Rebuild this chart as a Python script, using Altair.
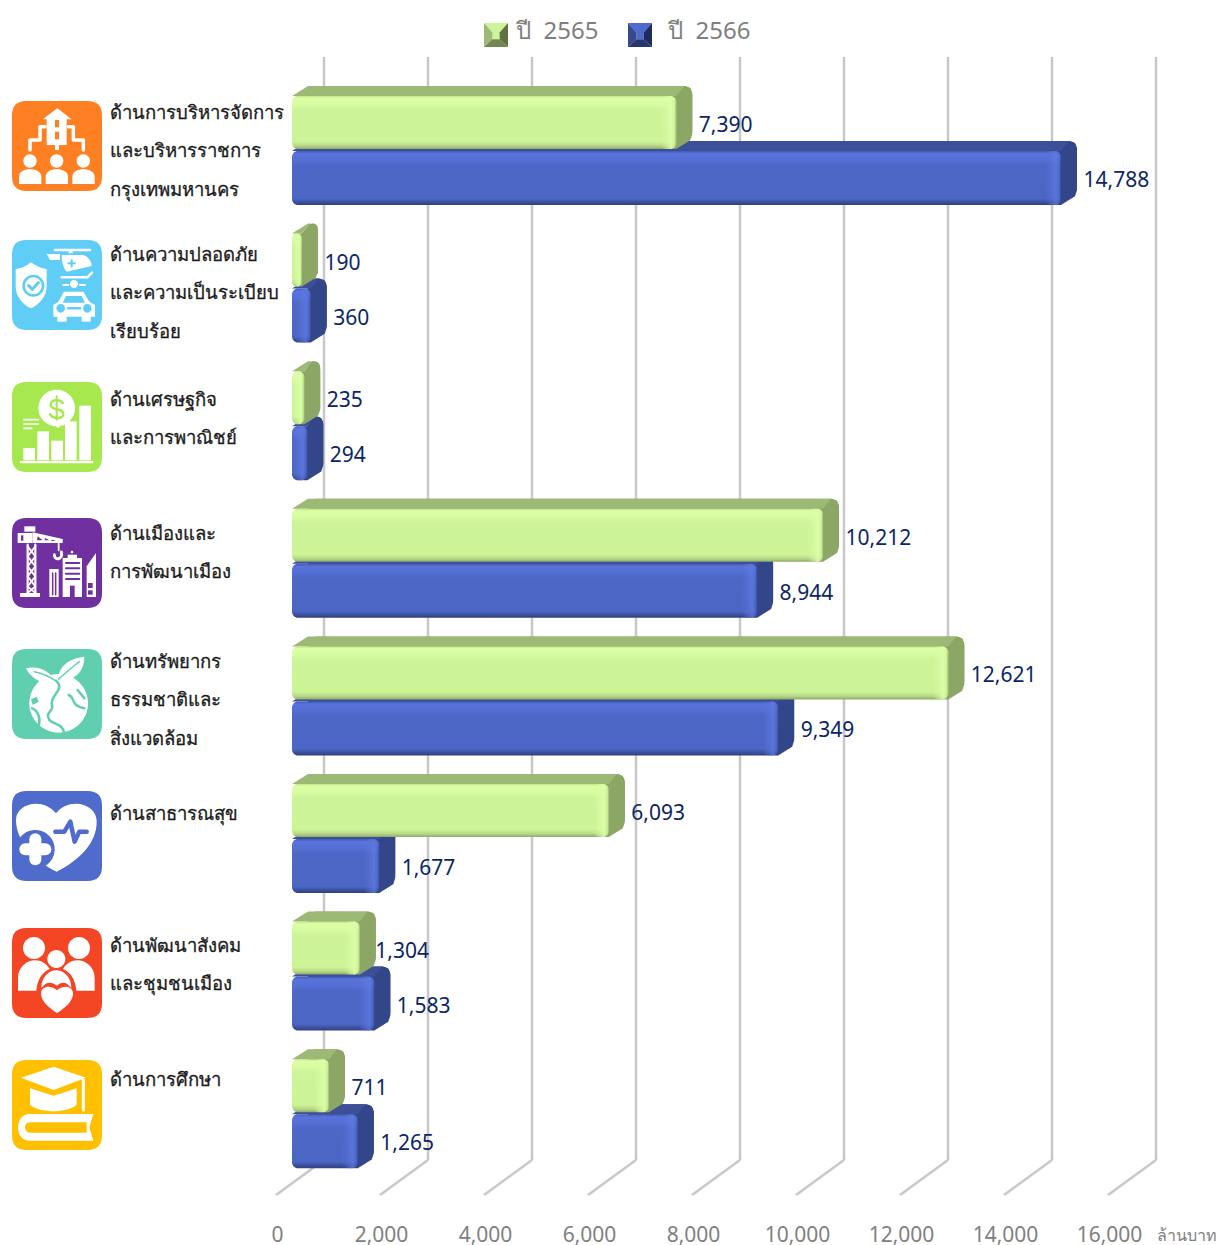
import re
import altair as alt
import pandas as pd

categories = [
    ["ด้านการบริหารจัดการ", "และบริหารราชการ", "กรุงเทพมหานคร"],
    ["ด้านความปลอดภัย", "และความเป็นระเบียบ", "เรียบร้อย"],
    ["ด้านเศรษฐกิจ", "และการพาณิชย์"],
    ["ด้านเมืองและ", "การพัฒนาเมือง"],
    ["ด้านทรัพยากร", "ธรรมชาติและ", "สิ่งแวดล้อม"],
    ["ด้านสาธารณสุข"],
    ["ด้านพัฒนาสังคม", "และชุมชนเมือง"],
    ["ด้านการศึกษา"],
]
y2565 = [7390, 190, 235, 10212, 12621, 6093, 1304, 711]
y2566 = [14788, 360, 294, 8944, 9349, 1677, 1583, 1265]
tick_values = [0, 2000, 4000, 6000, 8000, 10000, 12000, 14000, 16000]
text_first_line = [113, 255, 400, 534, 662, 814, 946, 1080]
icon_centres = [146, 285, 427, 563, 694, 836, 973, 1105]

W, H = 1211, 1237
PX = 0.052
X0 = 292
ROW0, ROWSTEP = 150, 137.6
FONT = "Noto Sans"


def fx(px):
    return (px - X0) / PX


def fy(py):
    return (py - ROW0) / ROWSTEP


def dv(px):
    return px / PX


def dr(py):
    return py / ROWSTEP


XS = alt.Scale(domain=[fx(8), fx(8 + W)], nice=False, zero=False)
YS = alt.Scale(domain=[fy(8 + H), fy(8)], nice=False, zero=False)
X_AXIS = alt.Axis(
    values=tick_values, labelExpr="format(datum.value, ',')", labelOffset=-15, domain=False,
    ticks=False, grid=False, labelFontSize=21, labelColor="#808080", labelFont=FONT,
    labelOverlap=False, labelFlush=False, labelPadding=0, offset=-21, title=None)


def X(f="x"):
    return alt.X(f + ":Q", scale=XS, title=None, axis=X_AXIS)


def Y(f="y"):
    return alt.Y(f + ":Q", scale=YS, axis=None, title=None)


# ------------------------------------------------------------------ grid
gx = pd.DataFrame({"x": [v + dv(32) for v in tick_values], "y": fy(57), "y2": fy(1160)})
fl = pd.DataFrame({
    "x": [v + dv(32) for v in tick_values],
    "x2": [v - dv(16) for v in tick_values],
    "y": fy(1160),
    "y2": fy(1195),
})
GRID = "#c8c8c8"
grid = alt.Chart(gx).mark_rule(color=GRID, strokeWidth=2.5).encode(
    x=X(), y=Y(), y2="y2:Q")
floor = alt.Chart(fl).mark_rule(color=GRID, strokeWidth=2.5).encode(
    x=X(), x2="x2:Q", y=Y(), y2="y2:Q")

# ------------------------------------------------------------------ bars
DX, DY = 16, 10
RB = 8


def stops(pairs):
    return alt.Gradient(gradient="linear", x1=0, x2=0, y1=0, y2=1,
                        stops=[alt.GradientStop(color=c, offset=o) for o, c in pairs])


def hstops(pairs):
    return alt.Gradient(gradient="linear", x1=0, x2=1, y1=0, y2=0,
                        stops=[alt.GradientStop(color=c, offset=o) for o, c in pairs])


def series(values, top, bot, top_col, side_col, front, edge):
    rows = list(range(len(values)))
    t = [r + dr(top) for r in rows]
    b = [r + dr(bot) for r in rows]
    df = pd.DataFrame({"x0": 0.0, "v": values, "t": t, "b": b})
    back = df.assign(x=dv(DX), x2=df.v + dv(DX), y=df.t - dr(DY), y2=df.b - dr(DY))
    back_l = alt.Chart(back).mark_rect(color=side_col, cornerRadius=RB).encode(
        x=X(), x2="x2:Q", y=Y(), y2="y2:Q")
    tops, sides = [], []
    for i, v in enumerate(values):
        tops += [dict(id=i, x=0, x2=v, y=t[i]),
                 dict(id=i, x=dv(DX), x2=max(v + dv(DX - RB), dv(DX)), y=t[i] - dr(DY))]
        sides += [
            dict(id=i, x=max(v - dv(4), 0), y=t[i], y2=b[i]),
            dict(id=i, x=v, y=t[i], y2=b[i]),
            dict(id=i, x=v + dv(DX - RB), y=t[i] - dr(DY), y2=b[i] - dr(DY / 2)),
            dict(id=i, x=v + dv(DX - 2), y=t[i] - dr(DY - 2), y2=b[i] - dr(DY - 1.25)),
            dict(id=i, x=v + dv(DX), y=t[i] - dr(DY - RB), y2=b[i] - dr(DY + 5)),
        ]
    side_l = alt.Chart(pd.DataFrame(sides)).mark_area(orient="vertical", color=side_col).encode(
        x=X(), y=Y(), y2="y2:Q", detail="id:N")
    top_l = alt.Chart(pd.DataFrame(tops)).mark_area(orient="horizontal", color=top_col).encode(
        x=X(), x2="x2:Q", y=Y(), detail="id:N")
    fr = df.assign(x=0.0, x2=df.v, y=df.t, y2=df.b)
    front_l = alt.Chart(fr).mark_rect(fill=stops(front), cornerRadius=6).encode(
        x=X(), x2="x2:Q", y=Y(), y2="y2:Q")
    strip = fr.assign(x=(df.v - dv(16)).clip(lower=0))
    strip_l = alt.Chart(strip).mark_rect(fill=hstops(edge), cornerRadius=6).encode(
        x=X(), x2="x2:Q", y=Y(), y2="y2:Q")
    return [back_l, side_l, top_l, front_l, strip_l]


blue = series(
    y2566, 1, 55, "#3c4f98", "#34468a",
    [(0, "#4059b0"), (0.05, "#5874da"), (0.16, "#5470d6"), (0.26, "#4c67c6"), (0.88, "#4b66c4"),
     (0.95, "#3a4f9c"), (1, "#323f7c")],
    [(0, "rgba(90,116,220,0)"), (0.7, "rgba(96,122,226,0.75)"), (0.9, "rgba(80,104,204,0.5)"), (1, "rgba(44,60,130,0.75)")],
)
green = series(
    y2565, -54, -1, "#9db976", "#8ca666",
    [(0, "#c0e088"), (0.04, "#dcffa6"), (0.15, "#d8fca2"), (0.26, "#cdf498"), (0.86, "#ccf396"),
     (0.94, "#b6d886"), (1, "#8fa96a")],
    [(0, "rgba(214,250,160,0)"), (0.7, "rgba(220,255,170,0.9)"), (0.9, "rgba(204,240,150,0.7)"), (1, "rgba(140,170,100,0.85)")],
)

# ------------------------------------------------------------------ value labels
LAB = []
for r, (a, b) in enumerate(zip(y2565, y2566)):
    extra = -7 if a == 1304 else 0
    LAB.append(dict(x=a + dv(DX + 6.5 + extra), y=fy(126 + r * ROWSTEP), t=f"{a:,}"))
    LAB.append(dict(x=b + dv(DX + 6.5), y=fy(181 + r * ROWSTEP), t=f"{b:,}"))
labels = alt.Chart(pd.DataFrame(LAB)).mark_text(
    align="left", baseline="middle", font=FONT, fontSize=21, color="#0b2566"
).encode(x=X(), y=Y(), text="t:N")

# ------------------------------------------------------------------ category text
CT = []
for lines, first in zip(categories, text_first_line):
    for i, ln in enumerate(lines):
        CT.append(dict(x=fx(110), y=fy(first + i * 38.4), t=ln))
cat_text = alt.Chart(pd.DataFrame(CT)).mark_text(
    align="left", baseline="middle", font=FONT, fontSize=18.5, color="#1a1a1a",
    stroke="#1a1a1a", strokeWidth=0.3,
).encode(x=X(), y=Y(), text="t:N")

# ------------------------------------------------------------------ legend + unit
legend_text = alt.Chart(pd.DataFrame([
    dict(x=fx(516), y=fy(32), t="ปี\u00a0\u00a02565"),
    dict(x=fx(668), y=fy(32), t="ปี\u00a0\u00a02566"),
])).mark_text(align="left", baseline="middle", font=FONT, fontSize=24, color="#7f7f7f").encode(
    x=X(), y=Y(), text="t:N")
unit_text = alt.Chart(pd.DataFrame([dict(x=fx(1157), y=fy(1236), t="ล้านบาท")])).mark_text(
    align="left", baseline="middle", font=FONT, fontSize=16, color="#808080").encode(
    x=X(), y=Y(), text="t:N")

FACES = {
    "top": "M-1,-1L1,-1L.3,-.2L.3,.35L-.3,.35L-.3,-.2Z",
    "left": "M-1,-1L-.3,-.2L-.3,.35L-1,1Z",
    "right": "M1,-1L.3,-.2L.3,.35L1,1Z",
    "bottom": "M-1,1L1,1L.3,.35L-.3,.35Z",
}
LEG = []
for cx, cols in [(496, dict(top="#cdf498", left="#9db976", right="#5f7240", bottom="#718650")),
                 (640, dict(top="#4f6bd0", left="#37488f", right="#1f2c60", bottom="#28366f"))]:
    for k, p in FACES.items():
        LEG.append(dict(x=fx(cx), y=fy(35), path=p, fill=cols[k], stroke="transparent", sw=0))


# ------------------------------------------------------------------ icons
def tr(d, ox, oy):
    i = [0]

    def rep(m):
        v = float(m.group(0))
        o = ox if i[0] % 2 == 0 else oy
        i[0] += 1
        return f"{(v - o) / 135 - 1:.4f}"

    return re.sub(r"-?\d+(?:\.\d+)?", rep, d)


def circ(cx, cy, r):
    k = r * 0.5523
    return (f"M{cx - r} {cy} C{cx - r} {cy - k} {cx - k} {cy - r} {cx} {cy - r} "
            f"C{cx + k} {cy - r} {cx + r} {cy - k} {cx + r} {cy} "
            f"C{cx + r} {cy + k} {cx + k} {cy + r} {cx} {cy + r} "
            f"C{cx - k} {cy + r} {cx - r} {cy + k} {cx - r} {cy} Z")


def rect(a, b, c, d):
    return f"M{a} {b} L{c} {b} L{c} {d} L{a} {d} Z"


ROUND = "M-.68,-1L.68,-1Q1,-1 1,-.68L1,.68Q1,1 .68,1L-.68,1Q-1,1 -1,.68L-1,-.68Q-1,-1 -.68,-1Z"
WH = "#ffffff"
ICON = []


def icon(index, ox, oy, colour, shapes):
    cy = icon_centres[index]
    ICON.append(dict(x=fx(57), y=fy(cy), path=ROUND, fill=colour, stroke="transparent", sw=0))
    for s in shapes:
        d, fill, stroke, sw = s
        ICON.append(dict(x=fx(57), y=fy(cy), path=tr(d, ox, oy),
                         fill=fill or "transparent", stroke=stroke or "transparent", sw=sw))


def F(d, c=WH):
    return (d, c, None, 0)


def S(d, w, c=WH):
    return (d, None, c, w)


OR, SK, LG, PU, TE, BL, RD, YE = ("#ff8022", "#5fcdf5", "#a6e84e", "#7030a0",
                                  "#5fcfb0", "#4f6bcb", "#f44525", "#ffc000")

people = []
for c in (90, 170, 250):
    people.append(F(circ(c, 213, 20)))
    people.append(F(f"M{c - 33} 282 L{c - 33} 262 C{c - 33} 245 {c - 18} 238 {c} 238 "
                    f"C{c + 18} 238 {c + 34} 245 {c + 34} 262 L{c + 34} 282 Z"))
icon(0, 36, 33, OR, [
    F("M128 88 L172 55 L215 88 Z"), F(rect(140, 82, 200, 165)), F(rect(165, 160, 177, 180)),
    F(rect(165, 90, 177, 112), OR), F(rect(165, 125, 177, 148), OR),
    S("M90 180 L90 150 L120 150 L120 110 L135 110", 3.5),
    S("M250 180 L250 150 L220 150 L220 110 L205 110", 3.5),
] + people)

icon(1, 36, 450, SK, [
    F("M93 517 C110 530 125 535 140 537 L140 590 C140 620 115 645 93 655 C70 645 47 620 47 590 L47 537 C62 535 78 530 93 517 Z"),
    F(circ(100, 587, 33), SK), F(circ(100, 587, 25)),
    S("M86 587 L97 598 L115 578", 3, SK),
    S("M165 480 L270 480", 2.5), F(rect(206, 480, 218, 490)),
    F("M185 495 L250 495 C265 500 275 515 275 528 L200 545 C190 535 185 515 185 495 Z"),
    F(rect(212, 508, 218, 532), SK), F(rect(203, 517, 227, 523), SK),
    S("M185 562 L262 562 L276 548", 2.5),
    F("M140 492 L180 492 L180 510 L150 510 Z"),
    F(circ(222, 582, 12)), S("M190 585 L205 585 M240 585 L255 585", 2),
    F("M192 605 L250 605 L268 635 L285 645 L285 680 L160 680 L160 645 L175 635 Z"),
    F("M198 618 L245 618 L255 638 L188 638 Z", SK),
    F(rect(172, 675, 200, 695)), F(rect(245, 675, 272, 695)),
    F(circ(182, 655, 13), SK), F(circ(262, 655, 13), SK),
    S("M205 655 L240 655", 2.5, SK),
])

icon(2, 36, 37, LG, [
    F(rect(70, 235, 105, 272)), F(rect(112, 185, 147, 272)), F(rect(154, 213, 189, 272)),
    F(rect(195, 155, 230, 272)), F(rect(238, 108, 273, 272)), F(rect(60, 274, 280, 281)),
    F(circ(170, 115, 55)), F("M150 160 L175 175 L190 160 Z"),
    S("M188 100 C182 88 152 88 152 105 C152 125 190 112 190 133 C190 150 158 148 150 134", 2.5, LG),
    S("M170 80 L170 150", 2, LG),
    S("M72 150 L115 150", 1.7), S("M72 163 L115 163", 1.7), S("M72 176 L95 176", 1.7),
])

icon(3, 38, 445, PU, [
    S("M85 525 L85 670", 2.2), S("M108 525 L108 670", 2.2),
    S("M85 530 L108 560 L85 590 L108 620 L85 650 L108 670", 1.8),
    S("M108 530 L85 560 L108 590 L85 620 L108 650 L85 670", 1.8),
    F(rect(62, 670, 122, 682)), F(rect(55, 490, 100, 520)), F(rect(75, 470, 108, 486)),
    F(rect(65, 497, 72, 513), PU),
    F("M100 488 L190 508 L190 520 L100 520 Z"),
    F("M115 500 L130 512 L113 512 Z", PU), F("M138 505 L150 512 L135 512 Z", PU), F("M158 510 L170 514 L155 514 Z", PU),
    S("M178 522 L178 542", 1.8), S("M186 547 C192 570 165 575 165 555", 3),
    F(rect(150, 598, 178, 682)), S("M160 610 L160 675 M169 610 L169 675", 1.5, PU),
    F(rect(190, 565, 248, 682)), F(rect(205, 555, 233, 566)), F(circ(218, 547, 4)),
    S("M200 580 L240 580 M200 596 L240 596 M200 612 L240 612 M200 628 L240 628", 2, PU),
    F(rect(212, 648, 226, 682), PU),
    F("M262 682 L262 590 L290 550 L290 682 Z"),
    F(rect(266, 640, 280, 655), PU), F(rect(266, 662, 280, 675), PU),
])

icon(4, 38, 27, TE, [
    F(circ(178, 190, 88)),
    F("M172 125 C150 95 120 75 80 85 C95 115 125 135 172 125 Z"),
    F("M178 118 C175 80 210 55 255 50 C255 95 225 125 178 118 Z"),
    S("M172 125 C155 112 130 100 105 95", 1.5, TE), S("M178 118 C195 100 215 85 240 65", 1.5, TE),
    S("M170 122 C200 150 150 165 158 195 C165 215 135 215 150 240 C165 255 190 250 195 280", 2.5, TE),
    S("M208 165 C228 170 210 195 255 205 M235 150 L255 175", 2.5, TE),
    S("M98 205 C115 210 125 235 118 258", 2.5, TE),
    F("M95 178 L112 170 L118 185 L100 195 Z", TE),
])

icon(5, 38, 453, BL, [
    F("M172 695 C100 660 50 600 50 540 C50 490 130 470 170 520 C210 470 292 490 292 545 C292 610 240 660 172 695 Z"),
    F(circ(108, 628, 58), BL),
    S("M78 628 L138 628", 12), S("M108 598 L108 658", 12),
    S("M168 575 L195 575 L213 545 L226 605 L240 575 L262 575", 4.5, BL),
])

icon(6, 37, 25, RD, [
    F(circ(103, 85, 33)), F(circ(238, 85, 33)),
    F("M55 213 L55 175 C55 140 85 122 105 122 C125 122 140 132 150 148 C125 158 112 185 110 213 Z"),
    F("M285 213 L285 175 C285 140 255 122 235 122 C215 122 200 132 190 148 C215 158 228 185 230 213 Z"),
    F(circ(170, 118, 27)),
    F("M125 205 C125 170 150 152 170 152 C190 152 215 170 215 205 C200 185 185 185 172 198 C155 185 140 185 125 205 Z"),
    F("M172 280 C150 265 124 245 124 222 C124 198 155 195 172 212 C189 195 220 198 220 222 C220 245 195 265 172 280 Z"),
])

icon(7, 38, 420, YE, [
    F("M65 473 L163 440 L260 473 L163 510 Z"),
    F("M92 505 L163 527 L232 505 L232 555 C200 580 125 580 92 555 Z"),
    S("M252 480 L252 570", 3),
    F("M282 582 L90 582 C45 582 45 662 90 662 L282 662 L270 622 Z"),
    F("M92 607 L262 607 L262 638 L92 638 C72 638 72 607 92 607 Z", YE),
])

icons_df = pd.DataFrame(ICON + LEG)
icons_df["size"] = [8100] * len(ICON) + [576] * len(LEG)
icons = alt.Chart(icons_df).mark_point(filled=True, opacity=1, strokeCap="round", strokeJoin="round").encode(
    x=X(), y=Y(),
    shape=alt.Shape("path:N", scale=None),
    fill=alt.Fill("fill:N", scale=None),
    stroke=alt.Stroke("stroke:N", scale=None),
    strokeWidth=alt.StrokeWidth("sw:Q", scale=None),
    size=alt.Size("size:Q", scale=None),
)

chart = alt.layer(grid, floor, *blue, *green, labels, cat_text, legend_text, unit_text, icons).properties(
    width=W, height=H, padding=0,
    autosize=alt.AutoSizeParams(type="none"),
    background="white",
).configure_view(stroke=None)

chart.save("out.html", embed_options={"renderer": "svg", "actions": False})
